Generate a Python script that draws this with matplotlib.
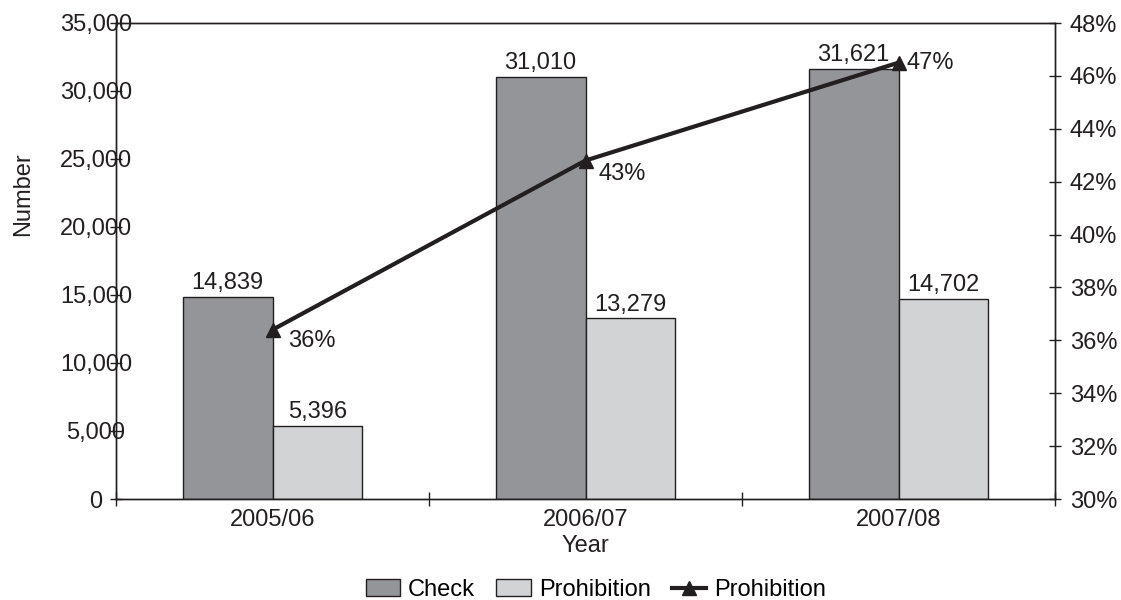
import math
import matplotlib.pyplot as plt
from matplotlib.ticker import FuncFormatter

plt.rcParams['font.family'] = ['Liberation Sans', 'DejaVu Sans']

years = ['2005/06', '2006/07', '2007/08']
check = [14839, 31010, 31621]
prohibition = [5396, 13279, 14702]
# prohibitions as a share of checks, in percent
prohibition_pct = [36.4, 42.8, 46.5]

ink = '#231f20'
fs = 17


def pct_label(v):
    # round half up, e.g. 46.5 -> 47
    return f'{math.floor(v + 0.5):.0f}%'


fig = plt.figure(figsize=(11.21, 6.0), dpi=100)
ax = fig.add_axes([116 / 1121, 1 - 499 / 600, (1055 - 116) / 1121, (499 - 23) / 600])

x = list(range(len(years)))
w = 0.287
b1 = ax.bar([i - w / 2 for i in x], check, w, color='#939598', edgecolor=ink,
            linewidth=1.0, label='Check', zorder=2)
b2 = ax.bar([i + w / 2 for i in x], prohibition, w, color='#d1d3d4', edgecolor=ink,
            linewidth=1.0, label='Prohibition', zorder=2)

for bars, vals in ((b1, check), (b2, prohibition)):
    for r, v in zip(bars, vals):
        ax.annotate(f'{v:,}', (r.get_x() + r.get_width() / 2, v), xytext=(0, 2),
                    textcoords='offset points', ha='center', va='bottom',
                    fontsize=fs, color=ink)

ax.set_xlim(-0.5, 2.5)
ax.set_ylim(0, 35000)
ax.set_yticks(range(0, 35001, 5000))
ax.yaxis.set_major_formatter(FuncFormatter(lambda v, p: f'{v:,.0f}'))
ax.tick_params(axis='y', direction='inout', length=8, width=1, color=ink,
               labelsize=fs, labelcolor=ink, pad=10.5)
plt.setp(ax.get_yticklabels(), ha='center')

ax.set_xticks(x, labels=years)
ax.set_xticks([-0.5, 0.5, 1.5, 2.5], minor=True)
ax.tick_params(axis='x', which='major', length=0, labelsize=fs, labelcolor=ink, pad=7)
ax.tick_params(axis='x', which='minor', direction='inout', length=10, width=1, color=ink)

ax.set_xlabel('Year', fontsize=fs, color=ink, labelpad=3)
ax.set_ylabel('Number', fontsize=fs, color=ink)
ax.yaxis.set_label_coords(-0.087, 0.64)

for s in ax.spines.values():
    s.set_color(ink)
    s.set_linewidth(1.0)

# percentage line on the secondary axis
ax2 = ax.twinx()
ln, = ax2.plot(x, prohibition_pct, color=ink, linewidth=3, marker='^',
               markersize=10, label='Prohibition', zorder=3)
ax2.set_ylim(30, 48)
ax2.set_yticks(range(30, 49, 2))
ax2.yaxis.set_major_formatter(FuncFormatter(lambda v, p: f'{v:.0f}%'))
ax2.tick_params(axis='y', direction='inout', length=8, width=1, color=ink,
                labelsize=fs, labelcolor=ink, pad=6.5)
for s in ax2.spines.values():
    s.set_color(ink)
    s.set_linewidth(1.0)

pct_offsets = [(11, -8), (9.5, -10), (6, 0)]
for i, v in enumerate(prohibition_pct):
    ax2.annotate(pct_label(v), (x[i], v), xytext=pct_offsets[i],
                 textcoords='offset points', ha='left', va='center',
                 fontsize=fs, color=ink)

fig.legend([b1, b2, ln], ['Check', 'Prohibition', 'Prohibition'],
           loc='center', bbox_to_anchor=(596 / 1121, 1 - 590 / 600), ncol=3,
           frameon=False, fontsize=fs, handlelength=1.45, handletextpad=0.35,
           columnspacing=0.9, numpoints=1, borderpad=0)

fig.savefig('out.png', dpi=100)
